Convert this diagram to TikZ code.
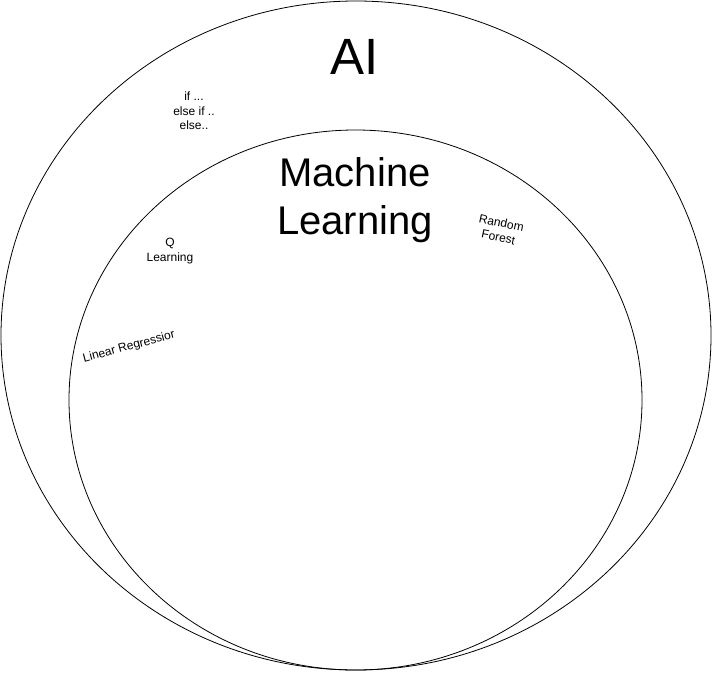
\documentclass[tikz,border=0pt]{standalone}
\usepackage{fontspec}
\setmainfont{Liberation Sans}
\begin{document}
\begin{tikzpicture}
            [
            x = 1pt, y = -1pt,
            ]
            \tikzstyle{set ellipse}=[draw, line width=0.8pt]
            \tikzstyle{small label}=[align=center, inner sep=0, font=\fontsize{12}{14.5}\selectfont]

            \useasboundingbox (0,0) rectangle (712,672);

            % sets
            \draw[set ellipse] (356,335.5) ellipse [x radius=355, y radius=334.5];
            \draw[set ellipse] (355.5,400) ellipse [x radius=286.5, y radius=270];

            % titles
            \node[inner sep=0, font=\fontsize{51}{60}\selectfont] (ai) at (355,57) {AI};
            \node[inner sep=0, align=center, font=\fontsize{40}{48}\selectfont] (ml) at (355,200) {Machine\\Learning};

            % examples
            \node[small label] (rules) at (194,111) {if ...\\else if ..\\else..};
            \node[small label] (qlearn) at (170,251) {Q\\Learning};
            \node[small label, rotate=15] (linreg) at (129,347) {Linear Regressior};
            \node[small label, rotate=-12] (forest) at (500,230) {Random\\Forest};
\end{tikzpicture}
\end{document}
